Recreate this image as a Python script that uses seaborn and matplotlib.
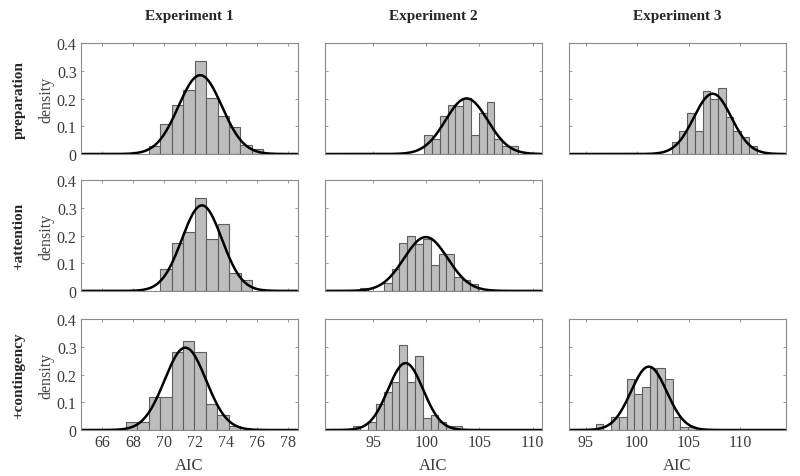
"""AIC distributions per model and experiment, with normal fits."""
import matplotlib
matplotlib.use("Agg")
import matplotlib.pyplot as plt
import numpy as np
import pandas as pd
import seaborn as sns

# ---- data (bin heights are densities) ----
experiments = ["Experiment 1", "Experiment 2", "Experiment 3"]
models = ["preparation", "+attention", "+contingency"]

bin_width = [0.74, 0.735, 0.75]          # per experiment

exp1_prep = [0.030, 0.109, 0.177, 0.233, 0.338, 0.204, 0.137, 0.097, 0.033, 0.017]
exp1_prep_left = 68.99
exp1_att = [0.080, 0.174, 0.214, 0.336, 0.187, 0.242, 0.065, 0.040]
exp1_att_left = 69.74
exp1_cont = [0.030, 0.029, 0.120, 0.120, 0.282, 0.322, 0.282, 0.095, 0.054, 0.014]
exp1_cont_left = 67.50

exp2_prep = [0.068, 0.055, 0.136, 0.176, 0.173, 0.201, 0.067, 0.149, 0.189, 0.053, 0.029, 0.028]
exp2_prep_left = 99.80
exp2_att = [0.012, 0.0, 0.0, 0.027, 0.080, 0.172, 0.200, 0.171, 0.186, 0.092, 0.134, 0.134,
            0.050, 0.040, 0.025]
exp2_att_left = 93.80
exp2_cont = [0.015, 0.0, 0.028, 0.095, 0.137, 0.175, 0.309, 0.175, 0.269, 0.042, 0.055, 0.029,
             0.015, 0.015]
exp2_cont_left = 93.06

exp3_prep = [0.042, 0.082, 0.148, 0.082, 0.227, 0.200, 0.240, 0.134, 0.082, 0.062, 0.029]
exp3_prep_left = 103.37
exp3_cont = [0.022, 0.0, 0.048, 0.048, 0.184, 0.129, 0.156, 0.223, 0.223, 0.184, 0.048, 0.010, 0.010]
exp3_cont_left = 95.97

# normal fit (mean, sd) for each panel
fit_mu = [[72.31, 72.42, 71.35], [103.79, 99.96, 98.05], [107.35, None, 101.14]]
fit_sd = [[1.40, 1.29, 1.34], [1.985, 2.05, 1.65], [1.83, None, 1.74]]

xlims = [(64.6, 78.6), (90.45, 110.85), (93.35, 114.45)]
xticks = [[66, 68, 70, 72, 74, 76, 78], [95, 100, 105, 110], [95, 100, 105, 110]]
yticks = [0, 0.1, 0.2, 0.3, 0.4]

heights = [[exp1_prep, exp1_att, exp1_cont],
           [exp2_prep, exp2_att, exp2_cont],
           [exp3_prep, None, exp3_cont]]
lefts = [[exp1_prep_left, exp1_att_left, exp1_cont_left],
         [exp2_prep_left, exp2_att_left, exp2_cont_left],
         [exp3_prep_left, None, exp3_cont_left]]

sns.set_style("ticks")
plt.rcParams["font.family"] = ["Liberation Serif", "DejaVu Serif"]

fig = plt.figure(figsize=(8, 4.77), dpi=100)

col_left = [0.101, 0.406, 0.711]
row_bottom = [0.675, 0.388, 0.0964]
ax_w, ax_h = 0.271, 0.232
spine_col = "#8a8a8a"

for c in range(3):
    for r in range(3):
        h = heights[c][r]
        if h is None:
            continue
        ax = fig.add_axes([col_left[c], row_bottom[r], ax_w, ax_h])
        edges = lefts[c][r] + bin_width[c] * np.arange(len(h) + 1)
        df = pd.DataFrame({"aic": (edges[:-1] + edges[1:]) / 2, "dens": h})
        sns.histplot(data=df, x="aic", weights="dens", bins=edges.tolist(), ax=ax,
                     color="#bdbdbd", edgecolor="#5e5e5e", linewidth=0.8, alpha=1)
        xs = np.linspace(*xlims[c], 400)
        mu, sd = fit_mu[c][r], fit_sd[c][r]
        pdf = np.exp(-0.5 * ((xs - mu) / sd) ** 2) / (sd * np.sqrt(2 * np.pi))
        sns.lineplot(x=xs, y=pdf, ax=ax, color="black", linewidth=1.8)

        ax.set_xlim(*xlims[c])
        ax.set_ylim(0, 0.4)
        ax.set_xticks(xticks[c])
        ax.set_yticks(yticks)
        ax.set_yticklabels([f"{t:g}" for t in yticks])
        ax.tick_params(direction="in", length=2.5, width=0.6, color=spine_col,
                       top=True, right=True, labelsize=11.5, labelcolor="#3a3a3a", pad=3)
        for sp in ax.spines.values():
            sp.set_visible(True)
            sp.set_color(spine_col)
            sp.set_linewidth(0.8)
        ax.set_xlabel("")
        ax.set_ylabel("")
        if r < 2:
            ax.set_xticklabels([])
        else:
            ax.set_xlabel("AIC", fontsize=12, color="#3a3a3a", labelpad=5)
        if c > 0:
            ax.set_yticklabels([])
        else:
            ax.set_ylabel("density", fontsize=11.5, color="#444444", labelpad=2)

for c, name in enumerate(experiments):
    fig.text(col_left[c] + ax_w / 2, 0.965, name, ha="center", va="center",
             fontsize=11, fontweight="bold")
for r, name in enumerate(models):
    fig.text(0.024, row_bottom[r] + ax_h / 2, name, rotation=90, ha="center",
             va="center", fontsize=11, fontweight="bold")

fig.savefig("out.png", dpi=100)
plt.close(fig)
